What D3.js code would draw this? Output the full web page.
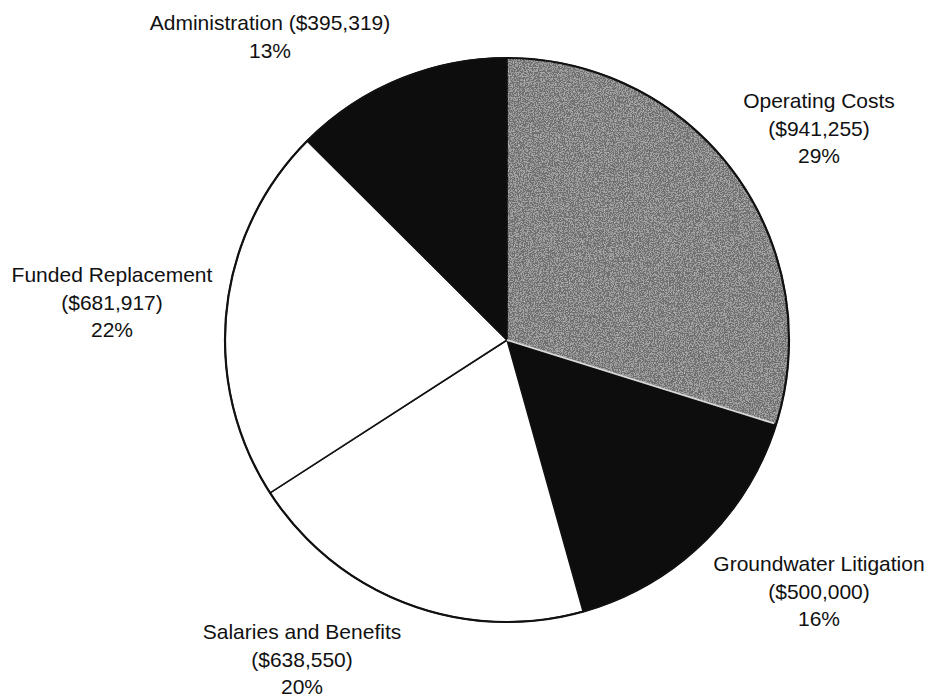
<!DOCTYPE html>
<html>
<head>
<meta charset="utf-8">
<script src="https://cdn.jsdelivr.net/npm/d3@7"></script>
<style>
  body { margin: 0; background: #fff; }
  text { font-family: "Liberation Sans", Arial, sans-serif; font-size: 21px; fill: #111; }
</style>
</head>
<body>
<svg id="container"></svg>
<script>
// slice data, clockwise from 12 o'clock
const categories = ["Operating Costs", "Groundwater Litigation", "Salaries and Benefits", "Funded Replacement", "Administration"];
const amounts = [941255, 500000, 638550, 681917, 395319];
const percents = ["29%", "16%", "20%", "22%", "13%"];
const fills = ["#6f6f6f", "#0d0d0d", "#ffffff", "#ffffff", "#0d0d0d"];

// label lines and where they sit (layout only)
const labelLines = [
	["Operating Costs", "($941,255)", "29%"],
	["Groundwater Litigation", "($500,000)", "16%"],
	["Salaries and Benefits", "($638,550)", "20%"],
	["Funded Replacement", "($681,917)", "22%"],
	["Administration ($395,319)", "13%"]
];
const labelPos = [[819, 108], [819, 571], [302, 639], [112, 282], [270, 30]];

const width = 932, height = 699;
const cx = 507, cy = 340, radius = 282;

const svg = d3.select("#container")
	.attr("width", width)
	.attr("height", height);

// speckle texture for the grey slice
const defs = svg.append("defs");
const filt = defs.append("filter").attr("id", "grain")
	.attr("x", 0).attr("y", 0).attr("width", 1).attr("height", 1);
filt.append("feTurbulence")
	.attr("type", "fractalNoise").attr("baseFrequency", 0.8).attr("numOctaves", 2).attr("seed", 3)
	.attr("result", "noise");
filt.append("feColorMatrix").attr("in", "noise").attr("type", "saturate").attr("values", 0).attr("result", "gray");
filt.append("feComponentTransfer").attr("in", "gray").attr("result", "spots")
	.append("feFuncA").attr("type", "discrete").attr("tableValues", "0 0 0.5 0.7");
filt.append("feComposite").attr("in", "spots").attr("in2", "SourceGraphic").attr("operator", "in").attr("result", "tex");
const merge = filt.append("feMerge");
merge.append("feMergeNode").attr("in", "SourceGraphic");
merge.append("feMergeNode").attr("in", "tex");

const pie = d3.pie().sort(null).value(d => d);
const arcs = pie(amounts);

const arc = d3.arc().innerRadius(0).outerRadius(radius);

const g = svg.append("g")
	.attr("transform", "translate(" + cx + "," + cy + ")");

g.selectAll("path.slice")
	.data(arcs)
	.enter()
	.append("path")
	.attr("class", "slice")
	.attr("d", arc)
	.attr("fill", (d, i) => fills[i])
	.attr("filter", (d, i) => i === 0 ? "url(#grain)" : null)
	.attr("stroke", "#111")
	.attr("stroke-width", 1.5)
	.attr("stroke-linejoin", "round");

// light seam between the grey and black slices
g.append("path")
	.attr("d", d3.arc().innerRadius(0).outerRadius(radius - 2)
		.startAngle(arcs[0].endAngle).endAngle(arcs[0].endAngle)())
	.attr("stroke", "#d8d8d8")
	.attr("stroke-width", 2);

// outer rim a little heavier
g.append("circle")
	.attr("r", radius)
	.attr("fill", "none")
	.attr("stroke", "#111")
	.attr("stroke-width", 2.2);

// labels
const lineH = 27.5;
labelLines.forEach((lines, i) => {
	const t = svg.append("text")
		.attr("text-anchor", "middle")
		.attr("x", labelPos[i][0])
		.attr("y", labelPos[i][1]);
	lines.forEach((s, j) => {
		t.append("tspan")
			.attr("x", labelPos[i][0])
			.attr("dy", j === 0 ? 0 : lineH)
			.text(s);
	});
});
</script>
</body>
</html>
